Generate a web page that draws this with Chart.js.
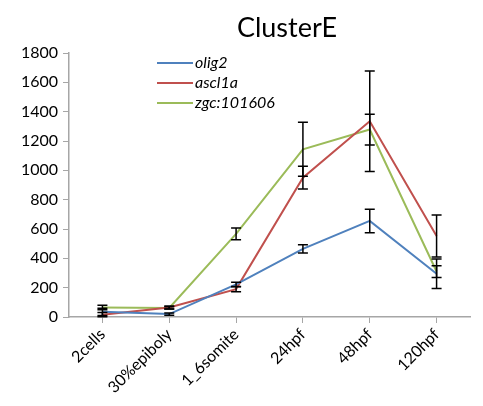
<!DOCTYPE html>
<html>
<head>
<meta charset="utf-8">
<script src="https://cdn.jsdelivr.net/npm/chart.js@4/dist/chart.umd.min.js"></script>
<style>
  html, body { margin: 0; padding: 0; background: #fff; }
  #wrap { width: 483px; height: 406px; position: relative; }
</style>
</head>
<body>
<div id="wrap"><canvas id="chart"></canvas></div>
<script>
// stages on the x axis
const stages = ['2cells', '30%epiboly', '1_6somite', '24hpf', '48hpf', '120hpf'];

// mean expression per gene
const olig2 = [35, 20, 222, 465, 655, 295];
const ascl1a = [16, 65, 190, 950, 1335, 552];
const zgc101606 = [65, 62, 567, 1143, 1278, 310];

// error bar half-lengths
const olig2Err = [25, 8, 15, 28, 80, 100];
const ascl1aErr = [15, 10, 18, 77, 343, 143];
const zgc101606Err = [15, 8, 40, 184, 105, 40];

const yTicks = [0, 200, 400, 600, 800, 1000, 1200, 1400, 1600, 1800];

const FONT = 'Lato, "Open Sans", sans-serif';

// title and in-plot legend, Excel style
const decorPlugin = {
    id: 'decor',
    afterDraw(chart) {
        const ctx = chart.ctx;
        ctx.save();
        ctx.fillStyle = '#000';
        ctx.font = '27px ' + FONT;
        ctx.textAlign = 'center';
        ctx.textBaseline = 'middle';
        ctx.fillText('ClusterE', 287, 28);

        ctx.font = 'italic 16px ' + FONT;
        ctx.textAlign = 'left';
        chart.data.datasets.forEach((ds, i) => {
            const y = 63 + i * 20;
            ctx.strokeStyle = ds.borderColor;
            ctx.lineWidth = 2;
            ctx.beginPath();
            ctx.moveTo(157, y);
            ctx.lineTo(193, y);
            ctx.stroke();
            ctx.fillText(ds.label, 195, y);
        });
        ctx.restore();
    }
};

// black error bars from each dataset's errors array
const errorBarPlugin = {
    id: 'errorBars',
    afterDatasetsDraw(chart) {
        const ctx = chart.ctx;
        const yScale = chart.scales.y;
        ctx.save();
        ctx.strokeStyle = '#000';
        ctx.lineWidth = 1.5;
        chart.data.datasets.forEach((ds, i) => {
            const meta = chart.getDatasetMeta(i);
            meta.data.forEach((pt, j) => {
                const v = ds.data[j];
                const e = ds.errors[j];
                const top = yScale.getPixelForValue(v + e);
                const bot = yScale.getPixelForValue(v - e);
                ctx.beginPath();
                ctx.moveTo(pt.x, top);
                ctx.lineTo(pt.x, bot);
                ctx.moveTo(pt.x - 5, top);
                ctx.lineTo(pt.x + 5, top);
                ctx.moveTo(pt.x - 5, bot);
                ctx.lineTo(pt.x + 5, bot);
                ctx.stroke();
            });
        });
        ctx.restore();
    }
};

new Chart(document.getElementById('chart'), {
    type: 'line',
    data: {
        labels: stages,
        datasets: [
            { label: 'olig2', data: olig2, errors: olig2Err, borderColor: '#4F81BD' },
            { label: 'ascl1a', data: ascl1a, errors: ascl1aErr, borderColor: '#C0504D' },
            { label: 'zgc:101606', data: zgc101606, errors: zgc101606Err, borderColor: '#9BBB59' }
        ].map(d => Object.assign(d, { borderWidth: 2, pointRadius: 0, tension: 0, fill: false }))
    },
    options: {
        responsive: true,
        maintainAspectRatio: false,
        animation: false,
        layout: { padding: { top: 53, right: 13, bottom: 0, left: 0 } },
        plugins: {
            legend: { display: false },
            title: { display: false },
            tooltip: { enabled: false }
        },
        scales: {
            x: {
                offset: true,
                grid: { offset: false, drawOnChartArea: false, color: '#A6A6A6', tickLength: 6 },
                border: { color: '#A6A6A6', width: 1.5 },
                ticks: { color: '#000', font: { family: FONT, size: 16 }, maxRotation: 45, minRotation: 45, padding: 2 },
                afterFit(scale) { scale.height = 89; }
            },
            y: {
                min: 0,
                max: 1800,
                afterBuildTicks(scale) { scale.ticks = yTicks.map(v => ({ value: v })); },
                grid: { drawOnChartArea: false, color: '#A6A6A6', tickLength: 6 },
                border: { color: '#A6A6A6', width: 1.5 },
                ticks: { color: '#000', font: { family: FONT, size: 16 }, padding: 5, callback: v => String(v) },
                afterFit(scale) { scale.width = 69; }
            }
        }
    },
    plugins: [errorBarPlugin, decorPlugin]
});
</script>
</body>
</html>
